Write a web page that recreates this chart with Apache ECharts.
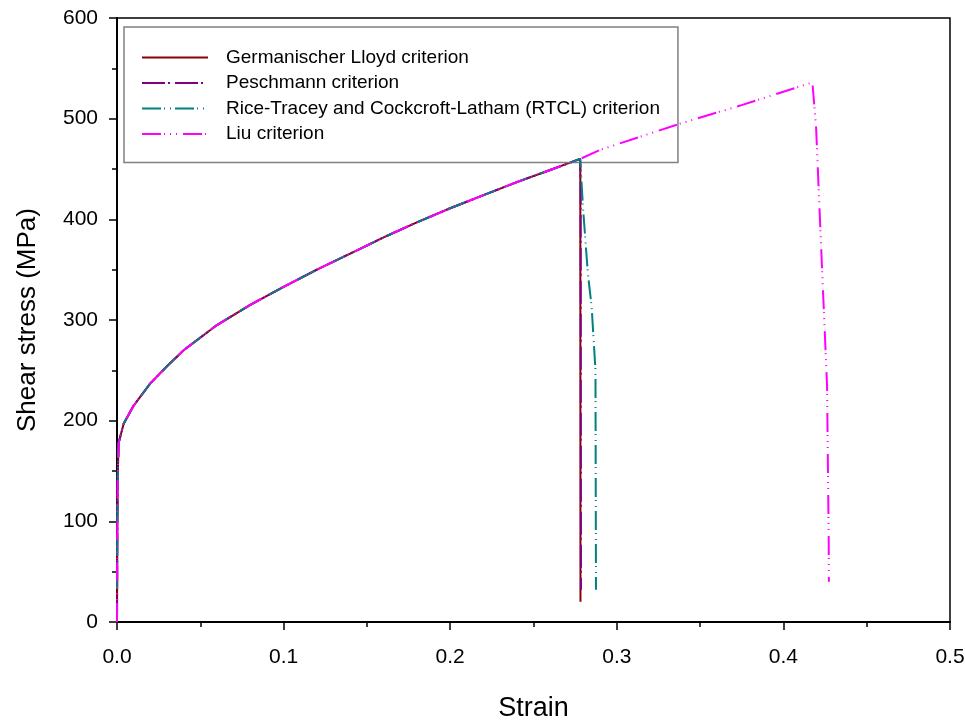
<!DOCTYPE html>
<html>
<head>
<meta charset="utf-8">
<script src="https://cdn.jsdelivr.net/npm/echarts@6/dist/echarts.min.js"></script>
<style>
html,body{margin:0;padding:0;background:#fff;}
#chart{width:965px;height:722px;}
</style>
</head>
<body>
<div id="chart"></div>
<script>
// Shared hardening curve (all criteria coincide up to failure onset)
const hardStrain = [0, 0.0002, 0.0005, 0.001, 0.004, 0.01, 0.02, 0.03, 0.04, 0.06, 0.08, 0.1, 0.12, 0.14, 0.16, 0.18, 0.2, 0.22, 0.24, 0.26, 0.278];
const hardStress = [0, 100, 150, 178, 197, 215, 237, 254, 270, 295, 315, 333, 350, 366, 382, 397, 411, 424, 437, 449, 460];

// Failure branches
const glTailStrain = [0.2781, 0.2782];
const glTailStress = [440, 20];
const peTailStrain = [0.2783, 0.2785];
const peTailStress = [440, 32];
const rtTailStrain = [0.2797, 0.2826, 0.2849, 0.2872, 0.2875];
const rtTailStress = [412, 347, 313, 250, 32];
const liuTailStrain = [0.29, 0.336, 0.374, 0.4174, 0.4196, 0.4223, 0.4262, 0.4272, 0.4273];
const liuTailStress = [469, 494, 513, 536, 492, 386, 235, 81, 40];

const seriesNames = ['Germanischer Lloyd criterion', 'Peschmann criterion', 'Rice-Tracey and Cockcroft-Latham (RTCL) criterion', 'Liu criterion'];
const seriesColors = ['#8B0000', '#800080', '#008080', '#FF00FF'];

function build(tx, ty) {
  const pts = hardStrain.map((x, i) => [x, hardStress[i]]);
  tx.forEach((x, i) => pts.push([x, ty[i]]));
  return pts;
}
const dataSets = [
  build(glTailStrain, glTailStress),
  build(peTailStrain, peTailStress),
  build(rtTailStrain, rtTailStress),
  build(liuTailStrain, liuTailStress)
];
const dashes = ['solid', [23, 3, 2, 5], [19, 3, 1, 5, 1, 4], [19, 3, 1, 5, 1, 5, 1, 6]];

const chart = echarts.init(document.getElementById('chart'), null, {renderer: 'canvas'});
const fontFam = '"Liberation Sans", Arial, sans-serif';
chart.setOption({
  animation: false,
  backgroundColor: '#fff',
  grid: {left: 117, right: 15, top: 18, bottom: 100, outerBoundsMode: 'none', containLabel: false,
         show: true, borderColor: '#000', borderWidth: 1.5, backgroundColor: 'transparent'},
  legend: {
    orient: 'vertical',
    left: 124, top: 27,
    padding: [21, 18, 19, 17],
    borderColor: '#808080', borderWidth: 1.5,
    itemWidth: 66, itemHeight: 18, itemGap: 6.5,
    itemStyle: {opacity: 0, color: 'rgba(0,0,0,0)', borderWidth: 0},
    textStyle: {fontFamily: fontFam, fontSize: 19, lineHeight: 18, color: '#000', padding: [0, 0, 0, 13]},
    data: seriesNames
  },
  xAxis: {
    type: 'value', min: 0, max: 0.5, interval: 0.1,
    name: 'Strain', nameLocation: 'middle', nameGap: 73,
    nameTextStyle: {fontFamily: fontFam, fontSize: 27, color: '#000'},
    axisLine: {onZero: false, lineStyle: {color: '#000', width: 2}},
    axisTick: {show: true, length: 8, lineStyle: {color: '#000', width: 1.5}},
    minorTick: {show: true, splitNumber: 2, length: 5, lineStyle: {color: '#000', width: 1.5}},
    splitLine: {show: false},
    axisLabel: {fontFamily: fontFam, fontSize: 21, color: '#000', margin: 25, formatter: v => v.toFixed(1)}
  },
  yAxis: {
    type: 'value', min: 0, max: 600, interval: 100,
    name: 'Shear stress (MPa)', nameLocation: 'middle', nameGap: 76,
    nameTextStyle: {fontFamily: fontFam, fontSize: 26, color: '#000'},
    axisLine: {onZero: false, lineStyle: {color: '#000', width: 2}},
    axisTick: {show: true, length: 8, lineStyle: {color: '#000', width: 1.5}},
    minorTick: {show: true, splitNumber: 2, length: 5, lineStyle: {color: '#000', width: 1.5}},
    splitLine: {show: false},
    axisLabel: {fontFamily: fontFam, fontSize: 21, color: '#000', margin: 19}
  },
  series: seriesNames.map((n, i) => ({
    name: n,
    type: 'line',
    data: dataSets[i],
    showSymbol: false,
    symbol: 'none',
    smooth: false,
    z: 2 + i,
    color: seriesColors[i],
    lineStyle: {color: seriesColors[i], width: 2, type: dashes[i]}
  }))
});
</script>
</body>
</html>
